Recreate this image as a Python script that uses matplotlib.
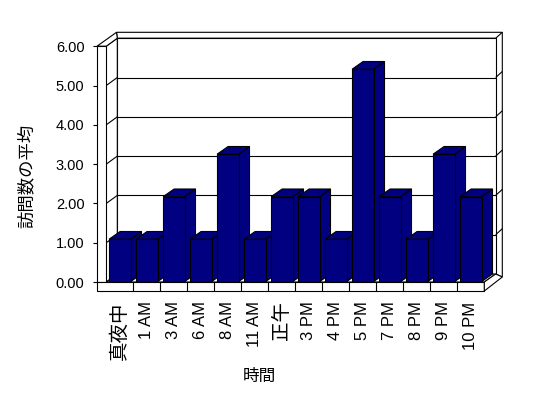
import matplotlib
matplotlib.use("Agg")
import matplotlib.pyplot as plt
from matplotlib.patches import Polygon

# ---- data ----
categories = ["真夜中", "1 AM", "3 AM", "6 AM", "8 AM", "11 AM", "正午",
              "3 PM", "4 PM", "5 PM", "7 PM", "8 PM", "9 PM", "10 PM"]
values = [1, 1, 2, 1, 3, 1, 2, 2, 1, 5, 2, 1, 3, 2]
y_ticks = [0, 1, 2, 3, 4, 5, 6]
y_label = "訪問数の平均"
x_label = "時間"

W, H = 548, 398
fig = plt.figure(figsize=(W / 100, H / 100), dpi=100)
fig.patch.set_facecolor("white")

# pixel geometry helpers (front plane of the chart box)
CAT_X0 = 106.3   # pixel x of category -0.5
CAT_W = 27.0     # pixels per category
BASE_Y = 281.7   # pixel y of bar value 0
BAR_UNIT = 42.5  # pixels per value unit for bars
WALL_UNIT = 39.3 # pixels per value unit on walls


def D(px, py):
    return ((px - CAT_X0) / CAT_W - 0.5, (BASE_Y - py) / BAR_UNIT)


ax_l, ax_r, ax_b, ax_t = 97, 510, 291, 25
ax = fig.add_axes([ax_l / W, 1 - ax_b / H, (ax_r - ax_l) / W, (ax_b - ax_t) / H])
ax.set_xlim(D(ax_l, 0)[0], D(ax_r, 0)[0])
ax.set_ylim(D(0, ax_b)[1], D(0, ax_t)[1])
for s in ax.spines.values():
    s.set_visible(False)
ax.set_facecolor("none")

LW = 0.8


def poly(pts, fc="white", z=1):
    p = Polygon([D(*q) for q in pts], closed=True, facecolor=fc,
                edgecolor="black", linewidth=LW, zorder=z, clip_on=False,
                joinstyle="miter")
    ax.add_patch(p)


def line(p1, p2, z=1.5):
    a, b = D(*p1), D(*p2)
    ax.plot([a[0], b[0]], [a[1], b[1]], color="black", lw=LW, zorder=z,
            clip_on=False, solid_capstyle="butt")


def yb(v):
    return 274 - WALL_UNIT * v


def yf(v):
    return 282 - WALL_UNIT * v


BX0, BX1 = 117.3, 495.7
OX1, OTOP = 502.3, 32.3

# back wall outer thickness
poly([(116.5, OTOP), (OX1, OTOP), (OX1, 277), (BX1, yb(0)), (BX1, yb(6)), (BX0, yb(6))], z=0.5)
# back wall inner face
poly([(BX0, yb(0)), (BX1, yb(0)), (BX1, yb(6)), (BX0, yb(6))], z=1)
line((BX1, yb(6)), (OX1, OTOP))
# left wall inner face
poly([(CAT_X0, yf(0)), (BX0, yb(0)), (BX0, yb(6)), (CAT_X0, yf(6))], z=1)
# gridlines
for v in y_ticks[1:-1]:
    line((BX0, yb(v)), (BX1, yb(v)))
    line((CAT_X0, yf(v)), (BX0, yb(v)))
    line((BX1, yb(v)), (OX1, yb(v) - 6))
# left wall top
poly([(97, yf(6)), (CAT_X0, yf(6)), (BX0, yb(6)), (116.5, OTOP)], z=1.2)
# floor top surface
poly([(CAT_X0, yf(0)), (484.3, yf(0)), (BX1, yb(0)), (BX0, yb(0))], z=1.2)

# ---- bars ----
bw = 21.4 / CAT_W
ddx = 11.0 / CAT_W
ddy = 7.7 / BAR_UNIT
navy = "#000080"
xs = list(range(len(categories)))
for i, v in zip(xs, values):
    z = 3 + i * 0.01
    x0, x1 = i - bw / 2, i + bw / 2
    ax.add_patch(Polygon([(x1, 0), (x1 + ddx, ddy), (x1 + ddx, v + ddy), (x1, v)],
                         closed=True, facecolor=navy, edgecolor="black",
                         linewidth=LW, zorder=z, joinstyle="miter"))
    ax.add_patch(Polygon([(x0, v), (x1, v), (x1 + ddx, v + ddy), (x0 + ddx, v + ddy)],
                         closed=True, facecolor=navy, edgecolor="black",
                         linewidth=LW, zorder=z, joinstyle="miter"))
    ax.bar([i], [v], width=bw, color=navy, edgecolor="black", linewidth=LW,
           zorder=z + 0.001)

# left wall front face and floor front face (in front of bars)
poly([(97, yf(6)), (CAT_X0, yf(6)), (CAT_X0, yf(0)), (97, yf(0))], z=5)
poly([(97, 282), (484.3, 282), (484.3, 291), (97, 291)], z=5)
poly([(484.3, 282), (BX1, yb(0)), (OX1, 277), (484.3, 291)], z=5)
for k in range(1, len(categories)):
    line((CAT_X0 + CAT_W * k, 282), (CAT_X0 + CAT_W * k, 291), z=5.5)

# ---- ticks ----
ax.set_yticks([D(0, yf(v))[1] for v in y_ticks])
ax.set_yticklabels([f"{v:.2f}" for v in y_ticks], fontfamily="Liberation Sans",
                   fontsize=10.5)
ax.tick_params(axis="y", direction="out", length=3, width=0.8, pad=6,
               colors="black")

ax.set_xticks(xs)
ax.set_xticklabels(categories, rotation=90,
                   fontfamily=["Liberation Sans", "Noto Sans CJK JP"])
for lab, c in zip(ax.get_xticklabels(), categories):
    if any(ord(ch) > 0x2000 for ch in c):
        lab.set_fontsize(14)
    else:
        lab.set_fontsize(12)
ax.tick_params(axis="x", length=0, pad=7.5)

fig.text(27 / W, 1 - 176 / H, y_label, rotation=90, ha="center", va="center",
         fontfamily="Noto Sans CJK JP", fontsize=12.5)
fig.text(259 / W, 1 - 376 / H, x_label, ha="center", va="center",
         fontfamily="Noto Sans CJK JP", fontsize=12)

fig.savefig("out.png", dpi=100, facecolor="white")
